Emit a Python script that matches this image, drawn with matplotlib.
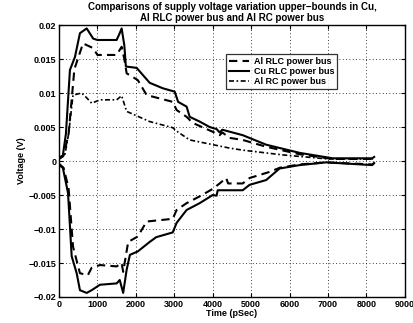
import numpy as np
import matplotlib
matplotlib.use("Agg")
import matplotlib.pyplot as plt

plt.rcParams['font.family'] = ['Liberation Sans', 'DejaVu Sans']
plt.rcParams['font.weight'] = 'bold'

# Cu RLC power bus (solid), upper bound
cu_up_t = [0, 100, 180, 285, 415, 545, 720, 890, 1000, 1500, 1580, 1630, 1700, 1740, 2020, 2360,
           2700, 3010, 3100, 3320, 3400, 3660, 3920, 4100, 4180, 4250, 4780, 5390, 6260, 7120, 8150, 8200]
cu_up_v = [0.0005, 0.0008, 0.004, 0.0134, 0.0153, 0.0188, 0.0195, 0.018, 0.0178, 0.0178, 0.0188, 0.0195,
           0.017, 0.0139, 0.0137, 0.0115, 0.0107, 0.0102, 0.0087, 0.008, 0.0065, 0.0058, 0.005, 0.0047,
           0.0042, 0.0046, 0.0038, 0.0024, 0.0012, 0.0004, 0.0004, 0.0006]
# Cu RLC power bus, lower bound
cu_lo_t = [0, 100, 235, 330, 460, 545, 720, 850, 1065, 1500, 1580, 1670, 1760, 1845, 2050, 2360, 2530,
           2960, 3060, 3320, 3660, 4000, 4100, 4130, 4780, 4960, 5390, 5740, 6260, 6950, 8150, 8200]
cu_lo_v = [-0.0006, -0.001, -0.0047, -0.014, -0.0165, -0.019, -0.0194, -0.019, -0.0182, -0.018, -0.0175,
           -0.0194, -0.016, -0.0138, -0.0133, -0.0119, -0.0112, -0.0105, -0.0091, -0.0072, -0.0062,
           -0.005, -0.0051, -0.0043, -0.0043, -0.0035, -0.0028, -0.0011, -0.0006, -0.0002, -0.0006, -0.0003]

# Al RLC power bus (dashed), upper bound
al_up_t = [0, 120, 250, 400, 625, 890, 1000, 1500, 1630, 1700, 1760, 2050, 2280, 2960, 3060, 3320,
           3480, 4000, 4180, 4250, 4440, 4780, 5390, 6260, 7120, 8150, 8200]
al_up_v = [0.0003, 0.0008, 0.004, 0.0135, 0.0173, 0.0166, 0.0156, 0.0156, 0.0168, 0.015, 0.0129, 0.0119,
           0.0097, 0.0087, 0.0075, 0.0065, 0.0056, 0.0043, 0.0038, 0.0042, 0.0034, 0.0031, 0.0021, 0.001,
           0.0003, 0.0003, 0.0005]
# Al RLC power bus, lower bound
al_lo_t = [0, 120, 250, 365, 545, 750, 850, 1065, 1500, 1630, 1670, 1800, 2050, 2280, 2960, 3060, 3320,
           3660, 4000, 4180, 4350, 4400, 4780, 4960, 5480, 5740, 6260, 6950, 8150, 8200]
al_lo_v = [-0.0004, -0.001, -0.004, -0.0126, -0.0165, -0.0168, -0.0157, -0.0153, -0.0155, -0.015, -0.0163,
           -0.0119, -0.0111, -0.0089, -0.0085, -0.0072, -0.0062, -0.0052, -0.0041, -0.0033, -0.0025,
           -0.0033, -0.0033, -0.0025, -0.0016, -0.001, -0.0005, -0.0002, -0.0005, -0.0003]

# Al RC power bus (dash-dot), upper bound only
rc_t = [0, 150, 250, 365, 590, 720, 850, 1065, 1500, 1630, 1760, 2360, 2960, 3060, 3400, 3660, 4440,
        4780, 5820, 7000, 8150, 8200]
rc_v = [0.0003, 0.0008, 0.004, 0.0097, 0.01, 0.0093, 0.0085, 0.009, 0.009, 0.0096, 0.0073, 0.0058, 0.0049,
        0.0044, 0.0031, 0.0028, 0.0019, 0.0016, 0.0009, 0.0003, 0.0003, 0.0004]

xticks = [0, 1000, 2000, 3000, 4000, 5000, 6000, 7000, 8000, 9000]
yticks = [-0.02, -0.015, -0.01, -0.005, 0, 0.005, 0.01, 0.015, 0.02]
ytick_labels = ['\u22120.02', '\u22120.015', '\u22120.01', '\u22120.005', '0', '0.005', '0.01', '0.015', '0.02']

fig = plt.figure(figsize=(4.14, 3.23), dpi=100)
ax = fig.add_axes([0.1425, 0.0805, 0.8355, 0.842])

l1, = ax.plot(al_up_t, al_up_v, color='black', lw=1.5, ls=(0, (4, 2.5)), label='Al RLC power bus')
ax.plot(al_lo_t, al_lo_v, color='black', lw=1.5, ls=(0, (4, 2.5)))
l2, = ax.plot(cu_up_t, cu_up_v, color='black', lw=1.5, ls='-', label='Cu RLC power bus')
ax.plot(cu_lo_t, cu_lo_v, color='black', lw=1.5, ls='-')
l3, = ax.plot(rc_t, rc_v, color='black', lw=1.2, ls=(0, (3, 1.5, 1, 1.5)), label='Al RC power bus')

ax.set_xlim(0, 9000)
ax.set_ylim(-0.02, 0.02)
ax.set_xticks(xticks)
ax.set_xticklabels([str(x) for x in xticks], fontsize=6.5, fontweight='bold')
ax.set_yticks(yticks)
ax.set_yticklabels(ytick_labels, fontsize=6.5, fontweight='bold')
ax.tick_params(direction='in', top=True, right=True, length=3, width=0.8, pad=2)
ax.grid(True, ls=(0, (1, 3)), color='black', lw=0.6)
for s in ax.spines.values():
    s.set_linewidth(1.0)

ax.set_xlabel('Time (pSec)', fontsize=6.5, fontweight='bold', labelpad=0)
ax.set_ylabel('Voltage (V)', fontsize=6.5, fontweight='bold', labelpad=2)
ax.set_title('Comparisons of supply voltage variation upper\u2212bounds in Cu,\nAl RLC power bus and Al RC power bus',
             fontsize=7, fontweight='bold', pad=3, linespacing=1.1)

leg = ax.legend(handles=[l1, l2, l3], loc='upper left', bbox_to_anchor=(0.47, 0.91),
                fontsize=6.5, frameon=True, fancybox=False, edgecolor='black',
                handlelength=2.2, borderpad=0.3, labelspacing=0.15, handletextpad=0.6)
leg.get_frame().set_linewidth(0.9)

fig.savefig('out.png', dpi=100)
